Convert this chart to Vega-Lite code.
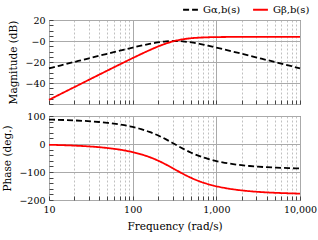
{
  "$schema": "https://vega.github.io/schema/vega-lite/v6.json",
  "padding": {"left": 2, "top": 1, "right": 0, "bottom": 3},
  "spacing": 12,
  "bounds": "flush",
  "config": {
    "font": "DejaVu Serif",
    "view": {"stroke": "#444444", "strokeWidth": 1},
    "legend": {"labelFont": "DejaVu Serif"},
    "axis": {
      "labelFont": "DejaVu Serif", "labelFontSize": 9.5, "labelColor": "#000000",
      "titleFont": "DejaVu Serif", "titleFontSize": 10.5, "titleFontWeight": "normal", "titleColor": "#000000",
      "domain": false, "tickColor": "#444444", "labelOverlap": false, "labelFlush": false,
      "tickSize": -4, "labelPadding": 8
    }
  },
  "data": {"values": [
    {"w": 10, "s": "Gα,b(s)", "mag": -26.03, "ph": 87.14},
    {"w": 12.59, "s": "Gα,b(s)", "mag": -24.03, "ph": 86.39},
    {"w": 15.85, "s": "Gα,b(s)", "mag": -22.03, "ph": 85.46},
    {"w": 19.95, "s": "Gα,b(s)", "mag": -20.04, "ph": 84.28},
    {"w": 25.12, "s": "Gα,b(s)", "mag": -18.04, "ph": 82.8},
    {"w": 31.62, "s": "Gα,b(s)", "mag": -16.05, "ph": 80.93},
    {"w": 39.81, "s": "Gα,b(s)", "mag": -14.06, "ph": 78.57},
    {"w": 50.12, "s": "Gα,b(s)", "mag": -12.08, "ph": 75.59},
    {"w": 63.1, "s": "Gα,b(s)", "mag": -10.12, "ph": 71.82},
    {"w": 79.43, "s": "Gα,b(s)", "mag": -8.18, "ph": 67.04},
    {"w": 100, "s": "Gα,b(s)", "mag": -6.28, "ph": 60.97},
    {"w": 125.9, "s": "Gα,b(s)", "mag": -4.46, "ph": 53.22},
    {"w": 158.5, "s": "Gα,b(s)", "mag": -2.78, "ph": 43.4},
    {"w": 199.5, "s": "Gα,b(s)", "mag": -1.35, "ph": 31.12},
    {"w": 251.2, "s": "Gα,b(s)", "mag": -0.36, "ph": 16.38},
    {"w": 316.2, "s": "Gα,b(s)", "mag": 0, "ph": 0},
    {"w": 398.1, "s": "Gα,b(s)", "mag": -0.36, "ph": -16.38},
    {"w": 501.2, "s": "Gα,b(s)", "mag": -1.35, "ph": -31.12},
    {"w": 631, "s": "Gα,b(s)", "mag": -2.78, "ph": -43.4},
    {"w": 794.3, "s": "Gα,b(s)", "mag": -4.46, "ph": -53.22},
    {"w": 1000, "s": "Gα,b(s)", "mag": -6.28, "ph": -60.97},
    {"w": 1259, "s": "Gα,b(s)", "mag": -8.18, "ph": -67.04},
    {"w": 1585, "s": "Gα,b(s)", "mag": -10.12, "ph": -71.82},
    {"w": 1995, "s": "Gα,b(s)", "mag": -12.08, "ph": -75.59},
    {"w": 2512, "s": "Gα,b(s)", "mag": -14.06, "ph": -78.57},
    {"w": 3162, "s": "Gα,b(s)", "mag": -16.05, "ph": -80.93},
    {"w": 3981, "s": "Gα,b(s)", "mag": -18.04, "ph": -82.8},
    {"w": 5012, "s": "Gα,b(s)", "mag": -20.04, "ph": -84.28},
    {"w": 6310, "s": "Gα,b(s)", "mag": -22.03, "ph": -85.46},
    {"w": 7943, "s": "Gα,b(s)", "mag": -24.03, "ph": -86.39},
    {"w": 10000, "s": "Gα,b(s)", "mag": -26.03, "ph": -87.14},
    {"w": 10, "s": "Gβ,b(s)", "mag": -56.03, "ph": -2.86},
    {"w": 12.59, "s": "Gβ,b(s)", "mag": -52.03, "ph": -3.61},
    {"w": 15.85, "s": "Gβ,b(s)", "mag": -48.03, "ph": -4.54},
    {"w": 19.95, "s": "Gβ,b(s)", "mag": -44.04, "ph": -5.72},
    {"w": 25.12, "s": "Gβ,b(s)", "mag": -40.04, "ph": -7.2},
    {"w": 31.62, "s": "Gβ,b(s)", "mag": -36.05, "ph": -9.07},
    {"w": 39.81, "s": "Gβ,b(s)", "mag": -32.06, "ph": -11.43},
    {"w": 50.12, "s": "Gβ,b(s)", "mag": -28.08, "ph": -14.41},
    {"w": 63.1, "s": "Gβ,b(s)", "mag": -24.12, "ph": -18.18},
    {"w": 79.43, "s": "Gβ,b(s)", "mag": -20.18, "ph": -22.96},
    {"w": 100, "s": "Gβ,b(s)", "mag": -16.28, "ph": -29.03},
    {"w": 125.9, "s": "Gβ,b(s)", "mag": -12.46, "ph": -36.78},
    {"w": 158.5, "s": "Gβ,b(s)", "mag": -8.78, "ph": -46.6},
    {"w": 199.5, "s": "Gβ,b(s)", "mag": -5.35, "ph": -58.88},
    {"w": 251.2, "s": "Gβ,b(s)", "mag": -2.36, "ph": -73.62},
    {"w": 316.2, "s": "Gβ,b(s)", "mag": 0, "ph": -90},
    {"w": 398.1, "s": "Gβ,b(s)", "mag": 1.64, "ph": -106.38},
    {"w": 501.2, "s": "Gβ,b(s)", "mag": 2.65, "ph": -121.12},
    {"w": 631, "s": "Gβ,b(s)", "mag": 3.22, "ph": -133.4},
    {"w": 794.3, "s": "Gβ,b(s)", "mag": 3.54, "ph": -143.22},
    {"w": 1000, "s": "Gβ,b(s)", "mag": 3.72, "ph": -150.97},
    {"w": 1259, "s": "Gβ,b(s)", "mag": 3.82, "ph": -157.04},
    {"w": 1585, "s": "Gβ,b(s)", "mag": 3.88, "ph": -161.82},
    {"w": 1995, "s": "Gβ,b(s)", "mag": 3.92, "ph": -165.59},
    {"w": 2512, "s": "Gβ,b(s)", "mag": 3.94, "ph": -168.57},
    {"w": 3162, "s": "Gβ,b(s)", "mag": 3.95, "ph": -170.93},
    {"w": 3981, "s": "Gβ,b(s)", "mag": 3.96, "ph": -172.8},
    {"w": 5012, "s": "Gβ,b(s)", "mag": 3.96, "ph": -174.28},
    {"w": 6310, "s": "Gβ,b(s)", "mag": 3.97, "ph": -175.46},
    {"w": 7943, "s": "Gβ,b(s)", "mag": 3.97, "ph": -176.39},
    {"w": 10000, "s": "Gβ,b(s)", "mag": 3.97, "ph": -177.14}
  ]},
  "vconcat": [
    {
      "width": 251, "height": 84,
      "mark": {"type": "line", "strokeWidth": 1.8, "interpolate": "monotone"},
      "encoding": {
        "x": {"field": "w", "type": "quantitative",
          "scale": {"type": "log", "domain": [10, 10000], "nice": false},
          "axis": {"title": null, "labels": false,
            "values": [10,20,30,40,50,60,70,80,90,100,200,300,400,500,600,700,800,900,1000,2000,3000,4000,5000,6000,7000,8000,9000,10000],
            "gridColor": {"condition": {"test": "datum.value==10||datum.value==100||datum.value==1000||datum.value==10000", "value": "#aaaaaa"}, "value": "#c0c0c0"},
            "gridDash": {"condition": {"test": "datum.value==10||datum.value==100||datum.value==1000||datum.value==10000", "value": []}, "value": [2, 2]}
          }},
        "y": {"field": "mag", "type": "quantitative",
          "scale": {"domain": [-60, 20], "nice": false, "zero": false},
          "axis": {"title": "Magnitude (dB)", "titlePadding": 6,
            "values": [-60,-55,-50,-45,-40,-35,-30,-25,-20,-15,-10,-5,0,5,10,15,20],
            "labelExpr": "datum.value == 0 ? '−0' : ((datum.value % 20 == 0 && datum.value > -60) ? datum.label : '')",
            "gridOpacity": {"condition": {"test": "datum.value % 20 == 0", "value": 1}, "value": 0},
            "gridColor": "#aaaaaa"
          }},
        "color": {"field": "s", "type": "nominal",
          "scale": {"domain": ["Gα,b(s)", "Gβ,b(s)"], "range": ["#000000", "#ff0000"]},
          "legend": {"title": null, "orient": "none", "legendX": 133, "legendY": -19, "direction": "horizontal",
            "symbolType": "stroke", "symbolStrokeWidth": 2, "symbolSize": 220, "labelFontSize": 10, "columnPadding": 8}},
        "strokeDash": {"field": "s", "type": "nominal",
          "scale": {"domain": ["Gα,b(s)", "Gβ,b(s)"], "range": [[6, 3], [1, 0]]},
          "legend": {"title": null, "orient": "none", "legendX": 133, "legendY": -19, "direction": "horizontal",
            "symbolType": "stroke", "symbolStrokeWidth": 2, "symbolSize": 220, "labelFontSize": 10, "columnPadding": 8}}
      }
    },
    {
      "width": 251, "height": 84,
      "mark": {"type": "line", "strokeWidth": 1.8, "interpolate": "monotone"},
      "encoding": {
        "x": {"field": "w", "type": "quantitative",
          "scale": {"type": "log", "domain": [10, 10000], "nice": false},
          "axis": {"title": "Frequency (rad/s)", "titlePadding": 8,
            "values": [10,20,30,40,50,60,70,80,90,100,200,300,400,500,600,700,800,900,1000,2000,3000,4000,5000,6000,7000,8000,9000,10000],
            "labelExpr": "(datum.value==10||datum.value==100||datum.value==1000||datum.value==10000) ? format(datum.value, ',') : ''",
            "gridColor": {"condition": {"test": "datum.value==10||datum.value==100||datum.value==1000||datum.value==10000", "value": "#aaaaaa"}, "value": "#c0c0c0"},
            "gridDash": {"condition": {"test": "datum.value==10||datum.value==100||datum.value==1000||datum.value==10000", "value": []}, "value": [2, 2]}
          }},
        "y": {"field": "ph", "type": "quantitative",
          "scale": {"domain": [-200, 100], "nice": false, "zero": false},
          "axis": {"title": "Phase (deg.)", "titlePadding": 6,
            "values": [-200,-180,-160,-140,-120,-100,-80,-60,-40,-20,0,20,40,60,80,100],
            "labelExpr": "datum.value % 100 == 0 ? datum.label : ''",
            "gridOpacity": {"condition": {"test": "datum.value % 100 == 0", "value": 1}, "value": 0},
            "gridColor": "#aaaaaa"
          }},
        "color": {"field": "s", "type": "nominal",
          "scale": {"domain": ["Gα,b(s)", "Gβ,b(s)"], "range": ["#000000", "#ff0000"]}},
        "strokeDash": {"field": "s", "type": "nominal",
          "scale": {"domain": ["Gα,b(s)", "Gβ,b(s)"], "range": [[6, 3], [1, 0]]}}
      }
    }
  ]
}
